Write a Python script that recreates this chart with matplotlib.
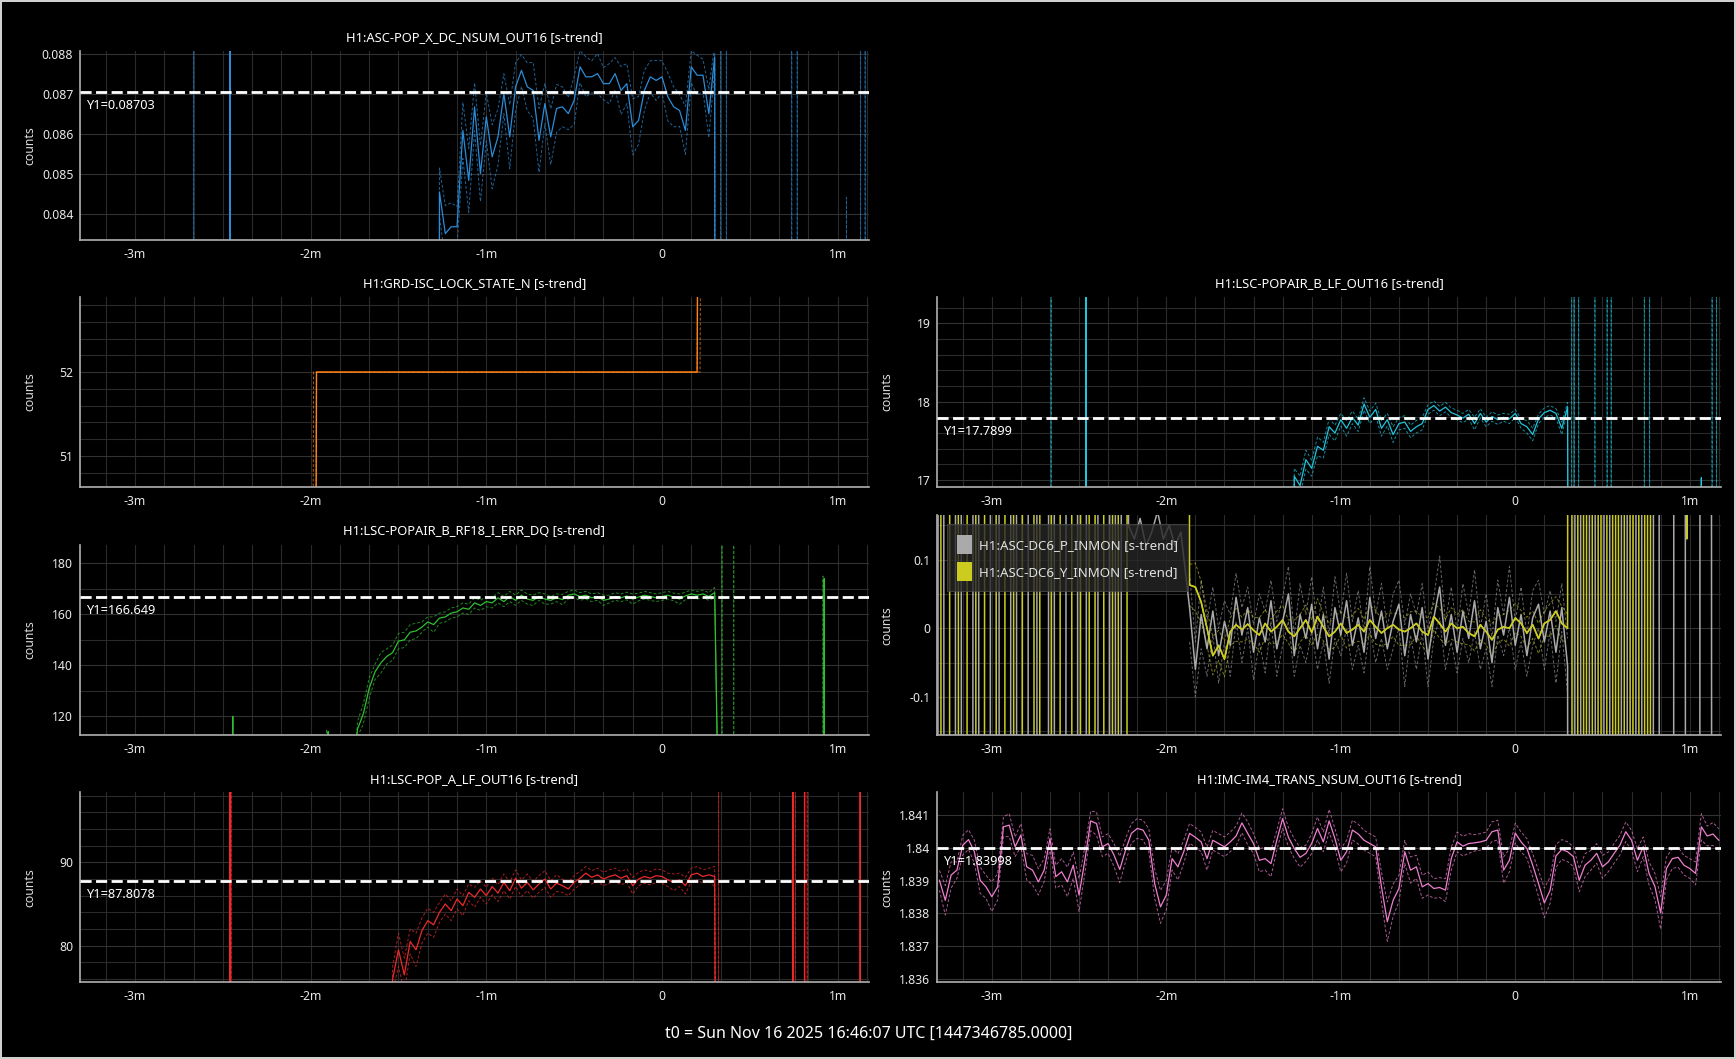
import numpy as np
import matplotlib
matplotlib.use('Agg')
import matplotlib.pyplot as plt
from matplotlib.ticker import MultipleLocator, AutoMinorLocator, FuncFormatter
from matplotlib.patches import Patch

plt.rcParams['font.family'] = ['Noto Sans', 'DejaVu Sans']
plt.rcParams['path.simplify'] = False

# time span of the trends, seconds relative to t0
T_START, T_END = -199, 71
T0_TEXT = 't0 = Sun Nov 16 2025 16:46:07 UTC [1447346785.0000]'

# ---- H1:ASC-POP_X_DC_NSUM_OUT16 (2 s samples from -76 s) ----
popx_title = 'H1:ASC-POP_X_DC_NSUM_OUT16 [s-trend]'
popx_start = -76
popx_mean = [0.08454, 0.08350, 0.08367, 0.08367, 0.08608, 0.08483, 0.08667, 0.08500, 0.08642, 0.08542,
             0.08592, 0.08700, 0.08592, 0.08717, 0.08758, 0.08717, 0.08708, 0.08583, 0.08675, 0.08592,
             0.08663, 0.08667, 0.08650, 0.08683, 0.08767, 0.08742, 0.08742, 0.08750, 0.08725, 0.08725,
             0.08750, 0.08708, 0.08725, 0.08617, 0.08633, 0.08708, 0.08742, 0.08733, 0.08742, 0.08692,
             0.08667, 0.08658, 0.08608, 0.08767, 0.08746, 0.08746, 0.08650, 0.08792]
popx_band = [60, 70, 60, 50, 70, 80, 60, 70, 60, 80, 70, 50, 80, 60, 40, 60, 70, 80, 50, 70,
             60, 50, 40, 60, 40, 50, 40, 50, 40, 50, 40, 60, 50, 70, 60, 50, 40, 50, 40, 60,
             50, 40, 60, 40, 50, 40, 60, 30]  # x1e-5
popx_mean_spike_t = [-147.5]
popx_mean_spike_v = [0.2]
popx_max_spike_t = [-160, 20, 22, 44.3, 46.2, 63, 67.8, 69.4]
popx_max_spike_v = [0.2, 0.2, 0.2, 0.2, 0.2, 0.0844, 0.2, 0.2]
popx_y1 = 0.08703

# ---- H1:GRD-ISC_LOCK_STATE_N ----
lock_title = 'H1:GRD-ISC_LOCK_STATE_N [s-trend]'
lock_mean_t = [-199, -119, -118, 12, 13, 71]
lock_mean_v = [40, 40, 52, 52, 60, 60]
lock_max_t = [-199, -120, -119, 12, 13, 71]
lock_max_v = [40, 40, 52, 52, 60, 60]
lock_min_t = [-199, -119, -118, 13, 14, 71]
lock_min_v = [40, 40, 52, 52, 60, 60]

# ---- H1:LSC-POPAIR_B_RF18_I_ERR_DQ (2 s samples from -104 s) ----
rf18_title = 'H1:LSC-POPAIR_B_RF18_I_ERR_DQ [s-trend]'
rf18_start = -104
rf18_mean = [115.0, 121.0, 131.0, 137.5, 141.0, 143.5, 145.0, 149.5, 150.0, 153.0,
             153.5, 155.0, 157.0, 156.0, 158.5, 159.0, 160.5, 161.0, 162.5, 162.0,
             164.5, 163.5, 165.0, 164.5, 166.5, 165.0, 167.0, 165.5, 167.5, 166.0,
             165.5, 167.0, 166.0, 165.5, 166.5, 165.8, 167.5, 168.0, 167.0, 167.5,
             166.5, 167.0, 165.5, 166.0, 167.0, 166.5, 167.2, 166.0, 166.8, 167.5,
             167.0, 166.5, 167.0, 167.5, 166.8, 166.0, 167.2, 168.0, 167.5, 168.0,
             167.0, 168.5]
rf18_band = [3, 4, 4, 3, 4, 3, 3, 3, 3, 3, 3, 2, 2, 3, 2, 2, 2, 2, 2, 2,
             2, 2, 2, 2, 2, 2, 2, 2, 2, 2, 2, 1.5, 2, 1.5, 1.5, 2, 1.5, 1.5, 1.5, 1.5,
             1.5, 1.5, 2, 1.5, 1.5, 1.5, 1.5, 2, 1.5, 1.5, 1.5, 1.5, 1.5, 1.5, 1.5, 2, 1.5, 1.5, 1.5, 1.5,
             1.5, 2]
rf18_mean_spike_t = [-146.6, -114, 55.4]
rf18_mean_spike_v = [120, 114, 174]
rf18_max_spike_t = [-114.5, 20.5, 24.5, 55]
rf18_max_spike_v = [115, 250, 250, 175]
rf18_y1 = 166.649

# ---- H1:LSC-POP_A_LF_OUT16 (2 s samples from -92 s) ----
popa_title = 'H1:LSC-POP_A_LF_OUT16 [s-trend]'
popa_start = -92
popa_mean = [76.0, 79.5, 76.5, 80.5, 79.5, 81.8, 83.0, 82.5, 84.0, 85.0,
             84.2, 85.6, 84.8, 86.4, 85.8, 86.8, 86.0, 87.1, 86.3, 87.6,
             86.6, 88.1, 86.9, 87.6, 86.7, 87.4, 88.0, 86.8, 87.5, 87.2,
             86.8, 87.6, 88.1, 88.7, 88.2, 88.5, 88.0, 88.3, 88.5, 88.1,
             88.4, 87.2, 88.0, 88.3, 88.1, 88.4, 88.3, 87.9, 87.6, 87.9,
             87.2, 88.5, 88.7, 88.3, 88.5, 88.3]
popa_band = [1.5, 2, 2, 1.5, 2, 1.5, 1.5, 1.5, 1.2, 1.2, 1.2, 1.2, 1.2, 1, 1.2, 1, 1, 1, 1, 1,
             1, 1, 1, 1, 1, 1, 1, 1, 1, 0.8, 0.8, 0.8, 0.8, 0.8, 0.8, 0.8, 0.8, 0.8, 0.8, 0.8,
             0.8, 1, 0.8, 0.8, 0.8, 0.8, 0.8, 0.8, 1, 0.8, 1, 0.8, 0.8, 0.8, 0.8, 1.2]
popa_mean_spike_t = [-147.5, 44.7, 48.7, 67.7]
popa_mean_spike_v = [200, 200, 200, 200]
popa_max_spike_t = [-147.1, 19.3, 45.6, 49.6]
popa_max_spike_v = [200, 200, 200, 200]
popa_y1 = 87.8078

# ---- H1:LSC-POPAIR_B_LF_OUT16 (2 s samples from -76 s) ----
pab_title = 'H1:LSC-POPAIR_B_LF_OUT16 [s-trend]'
pab_start = -76
pab_mean = [17.05, 16.93, 17.26, 17.15, 17.43, 17.38, 17.68, 17.60, 17.77, 17.66,
            17.80, 17.70, 17.97, 17.80, 17.90, 17.66, 17.77, 17.58, 17.72, 17.74,
            17.62, 17.68, 17.72, 17.90, 17.95, 17.88, 17.93, 17.86, 17.83, 17.79,
            17.84, 17.72, 17.85, 17.74, 17.81, 17.77, 17.80, 17.78, 17.85, 17.72,
            17.68, 17.58, 17.78, 17.86, 17.89, 17.85, 17.66, 17.93]
pab_band = [10, 12, 12, 10, 12, 10, 10, 10, 8, 10, 8, 8, 8, 8, 8, 10, 8, 10, 8, 8,
            8, 8, 8, 6, 6, 6, 6, 6, 6, 6, 6, 8, 6, 6, 6, 6, 5, 6, 5, 6,
            8, 8, 6, 6, 6, 6, 8, 6]  # x0.01
pab_mean_spike_t = [-147.6, 64]
pab_mean_spike_v = [40, 17.03]
pab_max_spike_t = [-159.6, 19.4, 20.3, 21.8, 27.4, 31.6, 33.0, 44.4, 46.2, 67.7, 69.2]
pab_max_spike_v = [40, 40, 40, 40, 40, 40, 40, 40, 40, 40, 40]
pab_y1 = 17.7899

# ---- H1:ASC-DC6_P_INMON / H1:ASC-DC6_Y_INMON ----
dc6_p_label = 'H1:ASC-DC6_P_INMON [s-trend]'
dc6_y_label = 'H1:ASC-DC6_Y_INMON [s-trend]'
# 1 s samples, -199 .. -134 s (unlocked, far off scale)
dc6y_left = [6, 6, -6, -6, -6, 6, 6, 6, -6, -6,
             -6, 6, 6, 6, -6, -6, -6, 6, 6, 6,
             6, -6, -6, -6, 6, 6, 6, -6, -6, -6,
             6, 6, 6, 6, -6, -6, 6, 6, 6, 6,
             -6, -6, -6, 6, 6, 6, 6, -6, -6, -6,
             6, 6, 6, -6, -6, 6, 6, 6, -6, -6,
             -6, 6, 6, -6, -6, -6]
dc6p_left = [-6, 6, 6, -6, -6, -6, -6, 6, 6, -6,
             -6, -6, -6, 6, 6, -6, -6, -6, -6, 6,
             6, 6, -6, -6, -6, -6, 6, 6, -6, -6,
             -6, -6, 6, 6, 6, -6, -6, -6, -6, 6,
             6, -6, -6, -6, -6, 6, 6, 6, 6, -6,
             -6, -6, 6, 6, 6, 6, -6, -6, -6, -6,
             6, 6, -6, -6, 6, 6]
# yellow stays high -133 .. -114 s, pitch sits near the top (2 s samples)
dc6y_high_t = [-133, -114]
dc6y_high = [6, 6]
dc6p_high = [0.15, 0.13, 0.16, 0.12, 0.14, 0.17, 0.13, 0.15, 0.12, 0.14]
# locked part, 2 s samples from -112 s
dc6_start = -112
dc6y_core = [0.063, 0.060, 0.038, 0.000, -0.040, -0.025, -0.045, -0.005, 0.005, -0.002,
             0.006, -0.003, -0.010, 0.007, -0.005, 0.002, 0.012, -0.005, -0.012, 0.000,
             0.012, -0.006, 0.017, 0.002, -0.012, -0.005, 0.007, -0.007, -0.002, 0.005,
             -0.005, 0.012, 0.002, -0.007, 0.000, 0.005, -0.002, -0.005, 0.000, 0.007,
             -0.005, -0.010, 0.017, 0.007, -0.005, 0.007, 0.000, 0.002, -0.007, -0.012,
             0.005, -0.005, -0.017, -0.002, 0.002, 0.000, 0.015, 0.007, -0.007, 0.005,
             -0.015, 0.007, 0.012, 0.025, 0.007, 0.000]
dc6y_band = [3, 3.5, 3, 2.5, 2.8, 2.2, 2.6, 2, 2.4, 1.8, 2.2, 1.9, 2.5, 2, 1.8, 2.3, 2.1, 1.7, 2.4, 2,
             2.2, 1.8, 2.6, 2, 1.9, 2.3, 1.7, 2.2, 2, 2.4, 1.8, 2.1, 2.5, 1.9, 2.2, 1.7, 2.3, 2, 2.4, 1.8,
             2.1, 2.6, 1.9, 2.2, 1.8, 2.3, 2, 2.5, 1.7, 2.1, 2.2, 1.9, 2.4, 2, 1.8, 2.6, 2.1, 1.9, 2.3, 2,
             2.2, 1.8, 2.4, 2.1, 2.5, 2]  # x0.01
dc6p_core = [0.030, -0.060, 0.020, -0.030, 0.025, -0.040, 0.010, -0.025, 0.045, -0.010,
             0.030, -0.035, 0.015, -0.020, 0.040, -0.030, 0.010, 0.050, -0.040, 0.020,
             -0.015, 0.035, -0.030, 0.020, -0.045, 0.030, -0.010, 0.040, -0.025, 0.015,
             -0.035, 0.045, -0.015, 0.025, -0.030, 0.010, 0.035, -0.040, 0.020, -0.020,
             0.030, -0.045, 0.015, 0.060, -0.025, 0.020, -0.035, 0.025, -0.015, 0.040,
             -0.030, 0.010, -0.050, 0.030, -0.010, 0.045, -0.025, 0.020, -0.040, 0.015,
             0.035, -0.020, 0.025, -0.035, 0.030, -0.055]
dc6p_band = [5, 4, 5, 4, 3.5, 4, 3, 4.5, 3.5, 4, 3, 4, 3.5, 4.5, 3, 4, 3.5, 4, 3, 4.5,
             3.5, 4, 3, 4, 3.5, 4.5, 3, 4, 3.5, 4, 3, 4.5, 3.5, 4, 3, 4, 3.5, 4.5, 3, 4,
             3.5, 4, 3, 4.5, 3.5, 4, 3, 4, 3.5, 4.5, 3, 4, 3.5, 4, 3, 4.5, 3.5, 4, 3, 4,
             3.5, 4, 3, 4.5, 3.5, 4]  # x0.01
# 1 s samples, 19 .. 71 s (unlocked again)
dc6y_right = [6, -6, -6, 6, 6, -6, 6, 6, -6, -6,
              6, -6, -6, 6, 6, -6, 6, -6, -6, 6,
              6, -6, 6, 6, -6, -6, 6, -6, 6, 6,
              6, 6, 6, 6, 6, 6, 6, 6, 6, 6,
              0.13, 6, 6, 6, 6, 6, 6, 6, 6, 6,
              6, 6, 6]
dc6p_right = [-6, -6, 6, 6, -6, -6, -6, 6, 6, -6,
              -6, -6, 6, 6, -6, -6, -6, -6, 6, 6,
              -6, -6, -6, 6, 6, -6, -6, -6, -6, 6,
              6, -6, -6, -6, -6, -6, 6, 6, 6, 6,
              -6, -6, -6, -6, -6, 6, 6, 6, 6, -6,
              -6, -6, -6]

# ---- H1:IMC-IM4_TRANS_NSUM_OUT16 (2 s samples from -198 s) ----
im4_title = 'H1:IMC-IM4_TRANS_NSUM_OUT16 [s-trend]'
im4_start = -198
im4_mean = [1.83901, 1.83840, 1.83917, 1.83932, 1.84008, 1.84025, 1.83988, 1.83901, 1.83881, 1.83851,
            1.83881, 1.84064, 1.84069, 1.84003, 1.84039, 1.83942, 1.83932, 1.83896, 1.83932, 1.84028,
            1.83912, 1.83927, 1.83896, 1.83947, 1.83856, 1.83962, 1.84082, 1.84074, 1.84003, 1.84013,
            1.83978, 1.83934, 1.83993, 1.84044, 1.84059, 1.84054, 1.84023, 1.83891, 1.83820, 1.83856,
            1.83967, 1.83942, 1.83988, 1.84044, 1.84032, 1.84018, 1.83967, 1.84023, 1.84013, 1.84003,
            1.84018, 1.84036, 1.84076, 1.84044, 1.84013, 1.83962, 1.83967, 1.83952, 1.84023, 1.84089,
            1.84032, 1.83998, 1.83971, 1.83983, 1.84013, 1.84059, 1.84018, 1.84082, 1.84028, 1.83962,
            1.83988, 1.84054, 1.84042, 1.84023, 1.84013, 1.84003, 1.83881, 1.83775, 1.83840, 1.83876,
            1.83988, 1.83932, 1.83942, 1.83881, 1.83891, 1.83876, 1.83879, 1.83871, 1.83967, 1.84018,
            1.84005, 1.84013, 1.84015, 1.84018, 1.84023, 1.84049, 1.84054, 1.83932, 1.83962, 1.84045,
            1.84018, 1.83998, 1.83947, 1.83891, 1.83832, 1.83871, 1.83975, 1.83995, 1.83988, 1.83973,
            1.83901, 1.83947, 1.83962, 1.83983, 1.83942, 1.83957, 1.83983, 1.84008, 1.84049, 1.84023,
            1.83962, 1.84003, 1.83922, 1.83883, 1.83802, 1.83937, 1.83967, 1.83971, 1.83947, 1.83937,
            1.83922, 1.84064, 1.84036, 1.84042, 1.84023]
im4_band = [30, 45, 40, 25, 30, 30, 35, 40, 35, 45, 40, 30, 35, 30, 35, 40, 45, 40, 35, 30,
            35, 40, 45, 40, 50, 40, 30, 35, 30, 30, 35, 40, 35, 30, 30, 30, 35, 45, 50, 45,
            35, 40, 35, 30, 30, 30, 35, 30, 30, 30, 30, 30, 30, 35, 30, 35, 35, 40, 30, 30,
            30, 30, 30, 25, 30, 35, 30, 35, 30, 35, 35, 30, 30, 30, 30, 30, 45, 60, 50, 40,
            35, 40, 35, 35, 35, 30, 30, 35, 35, 30, 30, 30, 25, 25, 25, 30, 30, 40, 35, 30,
            30, 30, 35, 40, 45, 40, 35, 30, 30, 30, 35, 35, 30, 30, 35, 30, 30, 30, 30, 30,
            35, 30, 35, 40, 50, 35, 30, 30, 30, 30, 35, 40, 30, 35, 35]  # x1e-5
im4_y1 = 1.83998

BLUE, ORANGE, GREEN, RED = '#2b8cd8', '#ff8418', '#2fbf2f', '#ee2a2a'
CYAN, GRAY, OLIVE, PINK = '#20c4dc', '#aaaaaa', '#cccc20', '#ef7fd0'
GRID = '#2a2a2a'


def grid_times(start, values, step=2):
    return start + step * np.arange(len(values))


def assemble(base, core_t, core_v, spike_t=(), spike_v=()):
    # off-scale base level outside the locked stretch, single-sample spikes
    pts = [(T_START, base), (T_END, base),
           (core_t[0] - 1, base), (core_t[-1] + 1, base)]
    pts += list(zip(core_t, core_v))
    for c, h in zip(spike_t, spike_v):
        pts += [(c - 0.05, base), (c, h), (c + 0.05, base)]
    pts.sort()
    t, v = zip(*pts)
    return np.array(t), np.array(v)


def draw_trend(ax, color, base, start, mean, band, scale,
               mean_sp_t=(), mean_sp_v=(), max_sp_t=(), max_sp_v=()):
    mean = np.asarray(mean)
    band = np.asarray(band) * scale
    t = grid_times(start, mean)
    th, vh = assemble(base, t, mean + band, max_sp_t, max_sp_v)
    tl, vl = assemble(base, t, mean - band)
    tm, vm = assemble(base, t, mean, mean_sp_t, mean_sp_v)
    ax.plot(th, vh, color=color, lw=0.7, ls=(0, (3, 2)), alpha=0.7)
    ax.plot(tl, vl, color=color, lw=0.7, ls=(0, (3, 2)), alpha=0.7)
    ax.plot(tm, vm, color=color, lw=0.9)


def minutes(v, pos):
    m = int(round(v / 60))
    return '0' if m == 0 else f'{m}m'


def style(ax, ylim, yticks, title=None, yminor=None):
    ax.set_facecolor('black')
    ax.set_xlim(-198.7, 70.6)
    ax.set_ylim(ylim)
    ax.set_yticks(yticks)
    ax.xaxis.set_major_locator(MultipleLocator(60))
    ax.xaxis.set_minor_locator(MultipleLocator(10))
    ax.xaxis.set_major_formatter(FuncFormatter(minutes))
    ax.yaxis.set_major_formatter(FuncFormatter(lambda v, p: f'{v:g}'))
    ax.xaxis.grid(True, which='both', color=GRID, lw=0.8)
    ax.yaxis.grid(True, which='major', color='#323232', lw=0.8)
    if yminor:
        ax.yaxis.set_minor_locator(AutoMinorLocator(yminor))
        ax.yaxis.grid(True, which='minor', color=GRID, lw=0.8)
    ax.set_axisbelow(True)
    for s in ('top', 'right'):
        ax.spines[s].set_visible(False)
    for s in ('left', 'bottom'):
        ax.spines[s].set_color('#b0b0b0')
        ax.spines[s].set_linewidth(1.2)
    ax.tick_params(which='both', length=0, colors='#e8e8e8', labelsize=8.8)
    ax.tick_params(axis='x', pad=5.5)
    ax.tick_params(axis='y', pad=5)
    ax.set_ylabel('counts', color='#dddddd', fontsize=8.8)
    ax.yaxis.set_label_coords(-0.056, 0.5)
    if title:
        ax.set_title(title, color='white', fontsize=9.3, pad=7)


def y1_line(ax, y1):
    ax.axhline(y1, color='white', lw=2, dashes=(4, 1.6), zorder=5)
    ax.annotate(f'Y1={y1:g}', xy=(0, y1), xycoords=('axes fraction', 'data'),
                xytext=(4, -5), textcoords='offset points', ha='left', va='top',
                color='white', fontsize=9.2, zorder=6)


fig = plt.figure(figsize=(17.36, 10.59), dpi=100, facecolor='black')
fig.patch.set_edgecolor('#d0d0d0')
fig.patch.set_linewidth(1.5)

LX, LW = 0.0462, 0.4542
RX, RW = 0.540, 0.4511

# left column
ax1 = fig.add_axes([LX, 0.773, LW, 0.179])
draw_trend(ax1, BLUE, 0.0, popx_start, popx_mean, popx_band, 1e-5,
           popx_mean_spike_t, popx_mean_spike_v, popx_max_spike_t, popx_max_spike_v)
style(ax1, (0.08333, 0.08807), [0.084, 0.085, 0.086, 0.087, 0.088], popx_title)
y1_line(ax1, popx_y1)

ax2 = fig.add_axes([LX, 0.540, LW, 0.180])
ax2.plot(lock_max_t, lock_max_v, color=ORANGE, lw=0.7, ls=(0, (3, 2)), alpha=0.7)
ax2.plot(lock_min_t, lock_min_v, color=ORANGE, lw=0.7, ls=(0, (3, 2)), alpha=0.7)
ax2.plot(lock_mean_t, lock_mean_v, color=ORANGE, lw=1.0)
style(ax2, (50.63, 52.9), [51, 52], lock_title, yminor=5)

ax3 = fig.add_axes([LX, 0.3057, LW, 0.1797])
draw_trend(ax3, GREEN, 100.0, rf18_start, rf18_mean, rf18_band, 1.0,
           rf18_mean_spike_t, rf18_mean_spike_v, rf18_max_spike_t, rf18_max_spike_v)
style(ax3, (112.6, 187.2), [120, 140, 160, 180], rf18_title, yminor=2)
y1_line(ax3, rf18_y1)

ax4 = fig.add_axes([LX, 0.0727, LW, 0.1791])
draw_trend(ax4, RED, 0.0, popa_start, popa_mean, popa_band, 1.0,
           popa_mean_spike_t, popa_mean_spike_v, popa_max_spike_t, popa_max_spike_v)
style(ax4, (75.64, 98.4), [80, 90], popa_title, yminor=5)
y1_line(ax4, popa_y1)

# right column
ax5 = fig.add_axes([RX, 0.540, RW, 0.180])
draw_trend(ax5, CYAN, 0.0, pab_start, pab_mean, pab_band, 0.01,
           pab_mean_spike_t, pab_mean_spike_v, pab_max_spike_t, pab_max_spike_v)
style(ax5, (16.91, 19.34), [17, 18, 19], pab_title, yminor=5)
y1_line(ax5, pab_y1)

ax6 = fig.add_axes([RX, 0.3057, RW, 0.208])
t_left = T_START + np.arange(len(dc6y_left))
t_core = grid_times(dc6_start, dc6y_core)
t_right = 19 + np.arange(len(dc6y_right))
t_ptop = -133 + 2 * np.arange(len(dc6p_high))
p_t = np.concatenate([t_left, t_ptop, t_core, t_right])
p_v = np.concatenate([dc6p_left, dc6p_high, dc6p_core, dc6p_right])
y_t = np.concatenate([t_left, dc6y_high_t, t_core, t_right])
y_v = np.concatenate([dc6y_left, dc6y_high, dc6y_core, dc6y_right])
pc, pb = np.asarray(dc6p_core), np.asarray(dc6p_band) * 0.01
yc, yb = np.asarray(dc6y_core), np.asarray(dc6y_band) * 0.01
for lim in (pc + pb, pc - pb):
    ax6.plot(t_core, lim, color=GRAY, lw=0.7, ls=(0, (3, 2)), alpha=0.6)
for lim in (yc + yb, yc - yb):
    ax6.plot(t_core, lim, color=OLIVE, lw=0.7, ls=(0, (3, 2)), alpha=0.6)
ax6.plot(p_t, p_v, color=GRAY, lw=1.1, zorder=3)
ax6.plot(y_t, y_v, color=OLIVE, lw=1.1, zorder=2)
ax6.plot(t_core, yc, color=OLIVE, lw=1.1, zorder=4)
style(ax6, (-0.156, 0.165), [-0.1, 0, 0.1], yminor=2)
leg = ax6.legend(handles=[Patch(facecolor=GRAY, label=dc6_p_label),
                          Patch(facecolor=OLIVE, label=dc6_y_label)],
                 loc='upper left', fontsize=9.6, handlelength=1.1, handleheight=1.8,
                 handletextpad=0.5, labelspacing=0.6, borderpad=0.8, borderaxespad=0.7,
                 facecolor='#262626', edgecolor='#4a4a4a', framealpha=0.8,
                 labelcolor='#e0e0e0', fancybox=False)
leg.get_frame().set_linewidth(0.8)
leg.set_zorder(6)

ax7 = fig.add_axes([RX, 0.0727, RW, 0.1791])
im4 = np.asarray(im4_mean)
im4_b = np.asarray(im4_band) * 1e-5
t_im4 = grid_times(im4_start, im4)
ax7.plot(t_im4, im4 + im4_b, color=PINK, lw=0.7, ls=(0, (3, 2)), alpha=0.7)
ax7.plot(t_im4, im4 - im4_b, color=PINK, lw=0.7, ls=(0, (3, 2)), alpha=0.7)
ax7.plot(t_im4, im4, color=PINK, lw=0.9)
style(ax7, (1.83591, 1.84169), [1.836, 1.837, 1.838, 1.839, 1.84, 1.841], im4_title)
y1_line(ax7, im4_y1)

fig.text(0.5006, 0.0236, T0_TEXT, ha='center', va='center', color='white', fontsize=11.5)

fig.savefig('out.png', dpi=100, facecolor=fig.get_facecolor(), edgecolor=fig.get_edgecolor())
